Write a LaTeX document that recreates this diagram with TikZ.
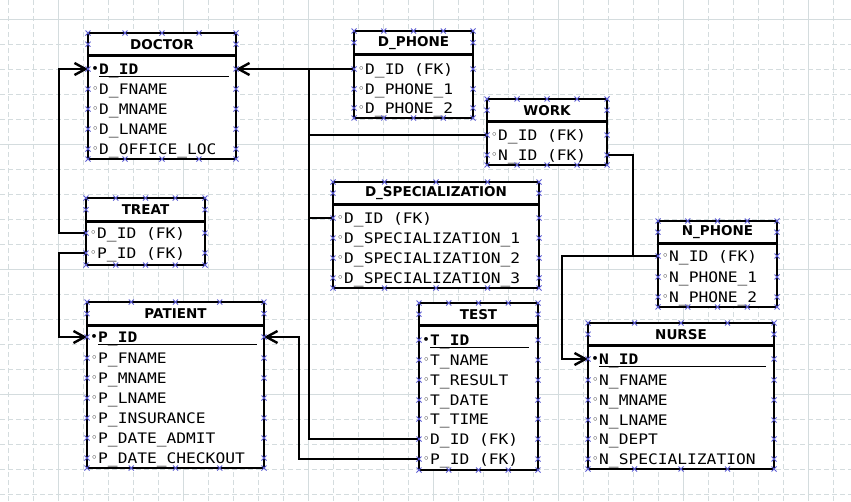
\documentclass[tikz,border=0pt]{standalone}
\usepackage{fontspec}
\usepackage{tikz}
\usetikzlibrary{positioning,calc,arrows.meta}
\newfontfamily\colfont{DejaVu Sans Mono}[FakeStretch=1.12]
\newfontfamily\hdrfont{DejaVu Sans}
\newfontfamily\markfont{DejaVu Sans}
\definecolor{gridc}{RGB}{212,220,222}
\definecolor{handlec}{RGB}{90,90,210}

\tikzset{
  tbl/.style={draw, line width=2.6pt, fill=white, anchor=north west, inner sep=0pt, outer sep=0pt},
  hdr/.style={font={\hdrfont\bfseries\fontsize{13.5}{14}\selectfont}, minimum height=22pt, inner sep=0pt},
  sep/.style={line width=2.3pt},
  row/.style={anchor=west, inner sep=0pt, text height=10pt, text depth=0pt},
  col/.style={row, font={\colfont\fontsize{14.5}{14}\selectfont},
    execute at begin node={\llap{\raisebox{1.5pt}{\markfont\fontsize{11}{11}\selectfont ◦}\hspace{0.5pt}}}},
  pk/.style={row, font={\colfont\bfseries\fontsize{14.5}{14}\selectfont},
    execute at begin node={\llap{\raisebox{1.5pt}{\markfont\fontsize{11}{11}\selectfont •}\hspace{0.5pt}}}},
  uline/.style={line width=1.2pt},
  link/.style={line width=2.4pt},
  ref/.style={link, -{Straight Barb[length=11pt,width=12pt]}},
  handle/.style={draw=handlec, line width=0.8pt},
  hx/.pic={\draw[handle] (-2.5,-2.5) -- (2.5,2.5) (-2.5,2.5) -- (2.5,-2.5);},
  gminor/.style={gridc, line width=0.8pt, dash pattern=on 5pt off 3pt},
  gmajor/.style={gridc, line width=0.8pt}
}

\begin{document}
\begin{tikzpicture}[x=1pt, y=-1pt]
    \useasboundingbox (0,0) rectangle (851,501);
    \foreach \gx in {8,33,...,833} \draw[gminor] (\gx,0) -- (\gx,501);
    \foreach \gy in {19,44,...,494} \draw[gminor] (0,\gy) -- (851,\gy);
    \foreach \gx in {58,183,...,808} \draw[gmajor] (\gx,0) -- (\gx,501);
    \foreach \gy in {19,144,...,394} \draw[gmajor] (0,\gy) -- (851,\gy);

    \node[tbl, minimum width=148pt, minimum height=126pt] (doctor) at (88,33) {};
    \node[hdr, below=0pt of doctor.north] (doctor-h) {DOCTOR};
    \draw[sep] (doctor-h.south -| doctor.west) -- (doctor-h.south -| doctor.east);
    \node[pk] (doctor-id) at (99,69) {D\_ID};
    \node[col] (doctor-fname) at (99,89) {D\_FNAME};
    \node[col] (doctor-mname) at (99,109) {D\_MNAME};
    \node[col] (doctor-lname) at (99,129) {D\_LNAME};
    \node[col] (doctor-loc) at (99,149) {D\_OFFICE\_LOC};
    \draw[uline] ([yshift=-7.5pt]doctor-id.west) -- ++(130,0);

    \node[tbl, minimum width=119pt, minimum height=87pt] (dphone) at (354,31) {};
    \node[hdr, below=0pt of dphone.north, minimum height=23pt] (dphone-h) {D\_PHONE};
    \draw[sep] (dphone-h.south -| dphone.west) -- (dphone-h.south -| dphone.east);
    \node[col] (dphone-id) at (365,69) {D\_ID (FK)};
    \node[col] (dphone-p1) at (365,89) {D\_PHONE\_1};
    \node[col] (dphone-p2) at (365,108) {D\_PHONE\_2};

    \node[tbl, minimum width=120pt, minimum height=66pt] (work) at (487,99) {};
    \node[hdr, below=0pt of work.north] (work-h) {WORK};
    \draw[sep] (work-h.south -| work.west) -- (work-h.south -| work.east);
    \node[col] (work-did) at (498,135) {D\_ID (FK)};
    \node[col] (work-nid) at (498,155) {N\_ID (FK)};

    \node[tbl, minimum width=206pt, minimum height=106pt] (dspec) at (333,182) {};
    \node[hdr, below=0pt of dspec.north] (dspec-h) {D\_SPECIALIZATION};
    \draw[sep] (dspec-h.south -| dspec.west) -- (dspec-h.south -| dspec.east);
    \node[col] (dspec-id) at (344,218) {D\_ID (FK)};
    \node[col] (dspec-s1) at (344,238) {D\_SPECIALIZATION\_1};
    \node[col] (dspec-s2) at (344,258) {D\_SPECIALIZATION\_2};
    \node[col] (dspec-s3) at (344,278) {D\_SPECIALIZATION\_3};

    \node[tbl, minimum width=119pt, minimum height=67pt] (treat) at (86,198) {};
    \node[hdr, below=0pt of treat.north, minimum height=23pt] (treat-h) {TREAT};
    \draw[sep] (treat-h.south -| treat.west) -- (treat-h.south -| treat.east);
    \node[col] (treat-did) at (97,233) {D\_ID (FK)};
    \node[col] (treat-pid) at (97,253) {P\_ID (FK)};

    \node[tbl, minimum width=177pt, minimum height=166pt] (patient) at (87,302) {};
    \node[hdr, below=0pt of patient.north, minimum height=23pt] (patient-h) {PATIENT};
    \draw[sep] (patient-h.south -| patient.west) -- (patient-h.south -| patient.east);
    \node[pk] (patient-id) at (98,337) {P\_ID};
    \node[col] (patient-fname) at (98,358) {P\_FNAME};
    \node[col] (patient-mname) at (98,378) {P\_MNAME};
    \node[col] (patient-lname) at (98,398) {P\_LNAME};
    \node[col] (patient-ins) at (98,418) {P\_INSURANCE};
    \node[col] (patient-adm) at (98,438) {P\_DATE\_ADMIT};
    \node[col] (patient-out) at (98,458) {P\_DATE\_CHECKOUT};
    \draw[uline] ([yshift=-7.5pt]patient-id.west) -- ++(159,0);

    \node[tbl, minimum width=119pt, minimum height=167pt] (test) at (419,303) {};
    \node[hdr, below=0pt of test.north] (test-h) {TEST};
    \draw[sep] (test-h.south -| test.west) -- (test-h.south -| test.east);
    \node[pk] (test-id) at (430,340) {T\_ID};
    \node[col] (test-name) at (430,360) {T\_NAME};
    \node[col] (test-res) at (430,380) {T\_RESULT};
    \node[col] (test-date) at (430,400) {T\_DATE};
    \node[col] (test-time) at (430,419) {T\_TIME};
    \node[col] (test-did) at (430,439) {D\_ID (FK)};
    \node[col] (test-pid) at (430,459) {P\_ID (FK)};
    \draw[uline] ([yshift=-7.5pt]test-id.west) -- ++(99,0);

    \node[tbl, minimum width=119pt, minimum height=86pt] (nphone) at (658,221) {};
    \node[hdr, below=0pt of nphone.north] (nphone-h) {N\_PHONE};
    \draw[sep] (nphone-h.south -| nphone.west) -- (nphone-h.south -| nphone.east);
    \node[col] (nphone-id) at (669,256) {N\_ID (FK)};
    \node[col] (nphone-p1) at (669,277) {N\_PHONE\_1};
    \node[col] (nphone-p2) at (669,297) {N\_PHONE\_2};

    \node[tbl, minimum width=186pt, minimum height=146pt] (nurse) at (588,323) {};
    \node[hdr, below=0pt of nurse.north] (nurse-h) {NURSE};
    \draw[sep] (nurse-h.south -| nurse.west) -- (nurse-h.south -| nurse.east);
    \node[pk] (nurse-id) at (599,359) {N\_ID};
    \node[col] (nurse-fname) at (599,380) {N\_FNAME};
    \node[col] (nurse-mname) at (599,400) {N\_MNAME};
    \node[col] (nurse-lname) at (599,420) {N\_LNAME};
    \node[col] (nurse-dept) at (599,439) {N\_DEPT};
    \node[col] (nurse-spec) at (599,459) {N\_SPECIALIZATION};
    \draw[uline] ([yshift=-7.5pt]nurse-id.west) -- ++(167,0);

    \coordinate (dj) at (309,69);
    \coordinate (nj) at (633,256);
    \draw[ref] (dphone-id -| dphone.west) -- (doctor-id -| doctor.east);
    \draw[link] (work-did -| work.west) -| (dj);
    \draw[link] (dspec-id -| dspec.west) -| (dj);
    \draw[link] (test-did -| test.west) -| (dj);
    \draw[ref] (treat-did -| treat.west) -- ++(-27,0) |- (doctor-id -| doctor.west);
    \draw[ref] (treat-pid -| treat.west) -- ++(-27,0) |- (patient-id -| patient.west);
    \draw[ref] (test-pid -| test.west) -- ++(-120,0) |- (patient-id -| patient.east);
    \draw[link] (work-nid -| work.east) -| (nj);
    \draw[ref] (nphone-id -| nphone.west) -- ++(-96,0) |- (nurse-id -| nurse.west);

    \foreach \tb/\rs in {doctor/{h,id,fname,mname,lname,loc}, dphone/{h,id,p1,p2}, work/{h,did,nid},
        dspec/{h,id,s1,s2,s3}, treat/{h,did,pid}, patient/{h,id,fname,mname,lname,ins,adm,out},
        test/{h,id,name,res,date,time,did,pid}, nphone/{h,id,p1,p2}, nurse/{h,id,fname,mname,lname,dept,spec}}{
      \foreach \f in {0,0.25,0.5,0.75,1}{
        \pic at ($(\tb.north west)!\f!(\tb.north east)$) {hx};
        \pic at ($(\tb.south west)!\f!(\tb.south east)$) {hx};
      }
      \foreach \rw in \rs{
        \pic at (\tb-\rw -| \tb.west) {hx};
        \pic at (\tb-\rw -| \tb.east) {hx};
      }
    }
\end{tikzpicture}
\end{document}
